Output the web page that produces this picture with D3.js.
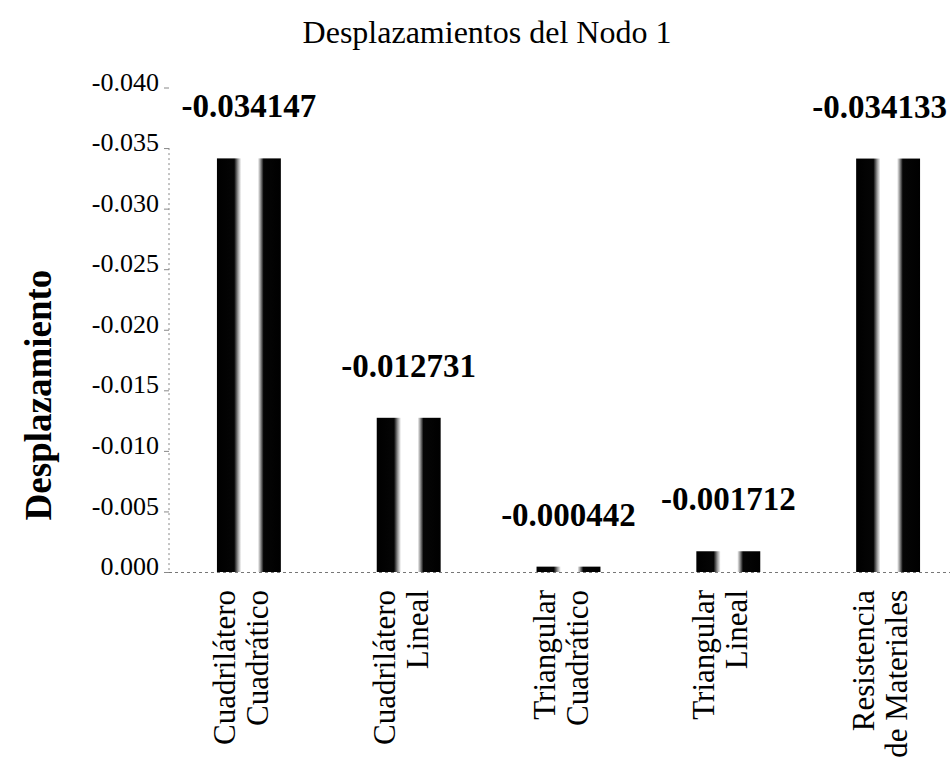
<!DOCTYPE html>
<html>
<head>
<meta charset="utf-8">
<script src="https://cdn.jsdelivr.net/npm/d3@7"></script>
<style>
  html, body { margin: 0; padding: 0; background: #fff; }
  svg { display: block; }
  text { font-family: "Liberation Serif", "Times New Roman", serif; fill: #000; }
</style>
</head>
<body>
<svg id="chart" width="950" height="768"></svg>
<script>
// Node 1 displacement for each element type
const categories = [
  ["Cuadrilátero", "Cuadrático"],
  ["Cuadrilátero", "Lineal"],
  ["Triangular", "Cuadrático"],
  ["Triangular", "Lineal"],
  ["Resistencia", "de Materiales"]
];
const values = [-0.034147, -0.012731, -0.000442, -0.001712, -0.034133];
const valueLabels = ["-0.034147", "-0.012731", "-0.000442", "-0.001712", "-0.034133"];
const tickValues = [0, -0.005, -0.010, -0.015, -0.020, -0.025, -0.030, -0.035, -0.040];
const tickLabels = ["0.000", "-0.005", "-0.010", "-0.015", "-0.020", "-0.025", "-0.030", "-0.035", "-0.040"];

const svg = d3.select("#chart");
const W = 950, H = 768;
const plot = { left: 169, right: 968, top: 87.5, bottom: 572 };

const keys = categories.map((c, i) => "c" + i);
const x = d3.scaleBand().domain(keys).range([plot.left, plot.right])
  .paddingInner(0.6).paddingOuter(0.3);
const y = d3.scaleLinear().domain([0, -0.04]).range([plot.bottom, plot.top]);

// cylinder-like shading: dark edges, light centre
const defs = svg.append("defs");
const grad = defs.append("linearGradient").attr("id", "barShade")
  .attr("x1", "0%").attr("x2", "100%").attr("y1", "0%").attr("y2", "0%");
[[0, "#000"], [0.27, "#050505"], [0.33, "#999"], [0.38, "#fff"],
 [0.64, "#fff"], [0.68, "#999"], [0.73, "#050505"], [1, "#000"]]
  .forEach(([o, c]) => grad.append("stop").attr("offset", o).attr("stop-color", c));

// title
svg.append("text").attr("x", 487).attr("y", 43).attr("text-anchor", "middle")
  .style("font-size", "32px").text("Desplazamientos del Nodo 1");

// y axis title
svg.append("text").attr("transform", `translate(51,395) rotate(-90)`)
  .attr("text-anchor", "middle").style("font-size", "37px").style("font-weight", "bold")
  .text("Desplazamiento");

// y axis
const yAxis = d3.axisLeft(y).tickValues(tickValues)
  .tickFormat((d, i) => tickLabels[i]).tickSize(5).tickPadding(5);
const gy = svg.append("g").attr("transform", `translate(${plot.left},0)`).call(yAxis)
  .attr("font-family", null).attr("font-size", null);
gy.select(".domain").attr("stroke", "#888").attr("stroke-dasharray", "2,3")
  .attr("d", `M0,${y(-0.035)}V${plot.bottom}`);
gy.selectAll(".tick line").attr("stroke", "#888");
gy.selectAll(".tick text").style("font-size", "26px").attr("dy", "0.1em");

// bars
svg.append("g").selectAll("rect").data(values).join("rect")
  .attr("x", (d, i) => x(keys[i]))
  .attr("width", x.bandwidth())
  .attr("y", d => y(d))
  .attr("height", d => y(0) - y(d))
  .attr("fill", "url(#barShade)");

// baseline
svg.append("line").attr("x1", plot.left).attr("x2", plot.right)
  .attr("y1", y(0) + 0.5).attr("y2", y(0) + 0.5)
  .attr("stroke", "#777").attr("stroke-dasharray", "3,3");

// value labels, kept inside the canvas
svg.append("g").selectAll("text").data(values).join("text")
  .attr("x", (d, i) => x(keys[i]) + x.bandwidth() / 2)
  .attr("y", d => y(d) - 41)
  .attr("text-anchor", "middle")
  .style("font-size", "33px").style("font-weight", "bold")
  .text((d, i) => valueLabels[i])
  .each(function () {
    const w = this.getComputedTextLength();
    const cx = +this.getAttribute("x");
    if (cx + w / 2 > W - 3) this.setAttribute("x", W - 3 - w / 2);
  });

// category labels (rotated, two lines)
const cat = svg.append("g").selectAll("g").data(categories).join("g")
  .attr("transform", (d, i) => `translate(${x(keys[i]) + x.bandwidth() / 2 - 10},590) rotate(-90)`);
cat.append("text").attr("text-anchor", "end").attr("y", -4)
  .style("font-size", "31px").text(d => d[0]);
cat.append("text").attr("text-anchor", "end").attr("y", 29)
  .style("font-size", "31px").text(d => d[1]);
</script>
</body>
</html>
